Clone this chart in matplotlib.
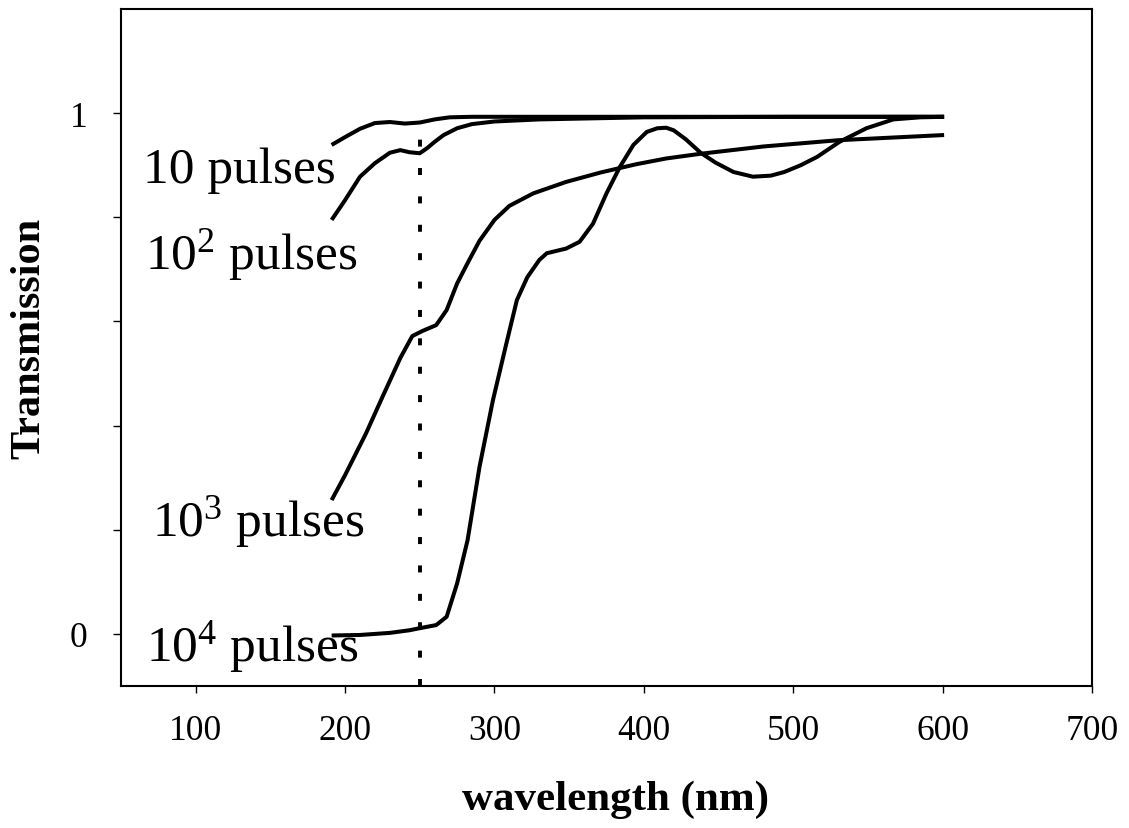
import matplotlib
matplotlib.use("Agg")
import matplotlib.pyplot as plt

# ---- data ----
wl_10 = [191, 200, 210, 220, 230, 240, 250, 260, 270, 285, 300, 350, 400, 500, 601]
tr_10 = [0.939, 0.954, 0.970, 0.981, 0.983, 0.980, 0.982, 0.988, 0.992, 0.993, 0.993, 0.993, 0.993, 0.993, 0.993]

wl_100 = [191, 200, 210, 220, 230, 237, 243, 250, 255, 260, 266, 275, 285, 300, 330, 400, 500, 601]
tr_100 = [0.795, 0.833, 0.878, 0.904, 0.924, 0.929, 0.925, 0.923, 0.933, 0.945, 0.958, 0.971, 0.979, 0.984, 0.988, 0.992, 0.993, 0.993]

wl_1000 = [191, 200, 214, 225, 237, 245, 252, 261, 268, 275, 282, 290, 300, 310, 326, 348, 371, 395, 415, 438, 480, 530, 601]
tr_1000 = [0.257, 0.305, 0.385, 0.455, 0.530, 0.572, 0.582, 0.593, 0.622, 0.673, 0.712, 0.755, 0.795, 0.822, 0.846, 0.868, 0.886, 0.902, 0.913, 0.922, 0.936, 0.948, 0.958]

wl_10000 = [191, 210, 230, 243, 250, 261, 268, 275, 282, 290, 299, 308, 315, 322, 330, 335, 348, 357, 366, 375, 384, 393, 402, 409, 415, 420, 428, 438, 448, 460, 473, 485, 494, 505, 516, 531, 549, 567, 585, 601]
tr_10000 = [-0.003, -0.002, 0.002, 0.007, 0.011, 0.017, 0.033, 0.097, 0.180, 0.321, 0.449, 0.558, 0.641, 0.685, 0.718, 0.731, 0.740, 0.753, 0.788, 0.846, 0.897, 0.939, 0.964, 0.971, 0.972, 0.967, 0.950, 0.924, 0.905, 0.887, 0.878, 0.880, 0.887, 0.900, 0.916, 0.945, 0.971, 0.988, 0.992, 0.993]

cutoff_wl = 250
cutoff_top = 0.965

labels = ["10 pulses", "10$^2$ pulses", "10$^3$ pulses", "10$^4$ pulses"]
label_x = [64.7, 66, 70.8, 66.7]
label_y = [0.868, 0.702, 0.19, -0.05]

x_ticks = [100, 200, 300, 400, 500, 600, 700]
y_ticks = [0, 0.2, 0.4, 0.6, 0.8, 1]
y_ticklabels = ["0", "", "", "", "", "1"]

# ---- style ----
plt.rcParams['font.family'] = ['Liberation Serif', 'DejaVu Serif']
plt.rcParams['mathtext.fontset'] = 'custom'
plt.rcParams['mathtext.rm'] = 'Liberation Serif'
plt.rcParams['mathtext.it'] = 'Liberation Serif:italic'
plt.rcParams['mathtext.bf'] = 'Liberation Serif:bold'

fig = plt.figure(figsize=(11.29, 8.29), dpi=100)
ax = fig.add_axes([121/1129, 1 - 687/829, (1092 - 121)/1129, (687 - 10)/829])

lw = 2.9
for wl, tr in [(wl_10, tr_10), (wl_100, tr_100), (wl_1000, tr_1000), (wl_10000, tr_10000)]:
    ax.plot(wl, tr, color='black', lw=lw, solid_capstyle='butt', solid_joinstyle='round')

ax.vlines(cutoff_wl, -0.1, cutoff_top, colors='black', lw=2.8,
          linestyles=(0, (1.8, 5.5)))

for t, x, y in zip(labels, label_x, label_y):
    ax.text(x, y, t, fontsize=37, ha='left', va='baseline', color='black')

ax.set_xlim(50, 700)
ax.set_ylim(-0.1, 1.2)
ax.set_xticks(x_ticks)
ax.set_xticklabels([str(v) for v in x_ticks])
ax.set_yticks(y_ticks)
ax.set_yticklabels(y_ticklabels)

for s in ax.spines.values():
    s.set_linewidth(1.5)

ax.tick_params(axis='x', direction='out', length=5, width=1.0, labelsize=25.5, pad=15)
ax.tick_params(axis='y', direction='out', length=6, width=1.0, labelsize=25.5, pad=18)

ax.set_xlabel("wavelength (nm)", fontsize=31, fontweight='bold')
ax.set_ylabel("Transmission", fontsize=30.5, fontweight='bold')
ax.xaxis.set_label_coords(0.509, -0.167)
ax.yaxis.set_label_coords(-0.094, 0.515)
ax.xaxis.label.set_va('center')
ax.yaxis.label.set_va('center')

fig.savefig("out.png", dpi=100)
